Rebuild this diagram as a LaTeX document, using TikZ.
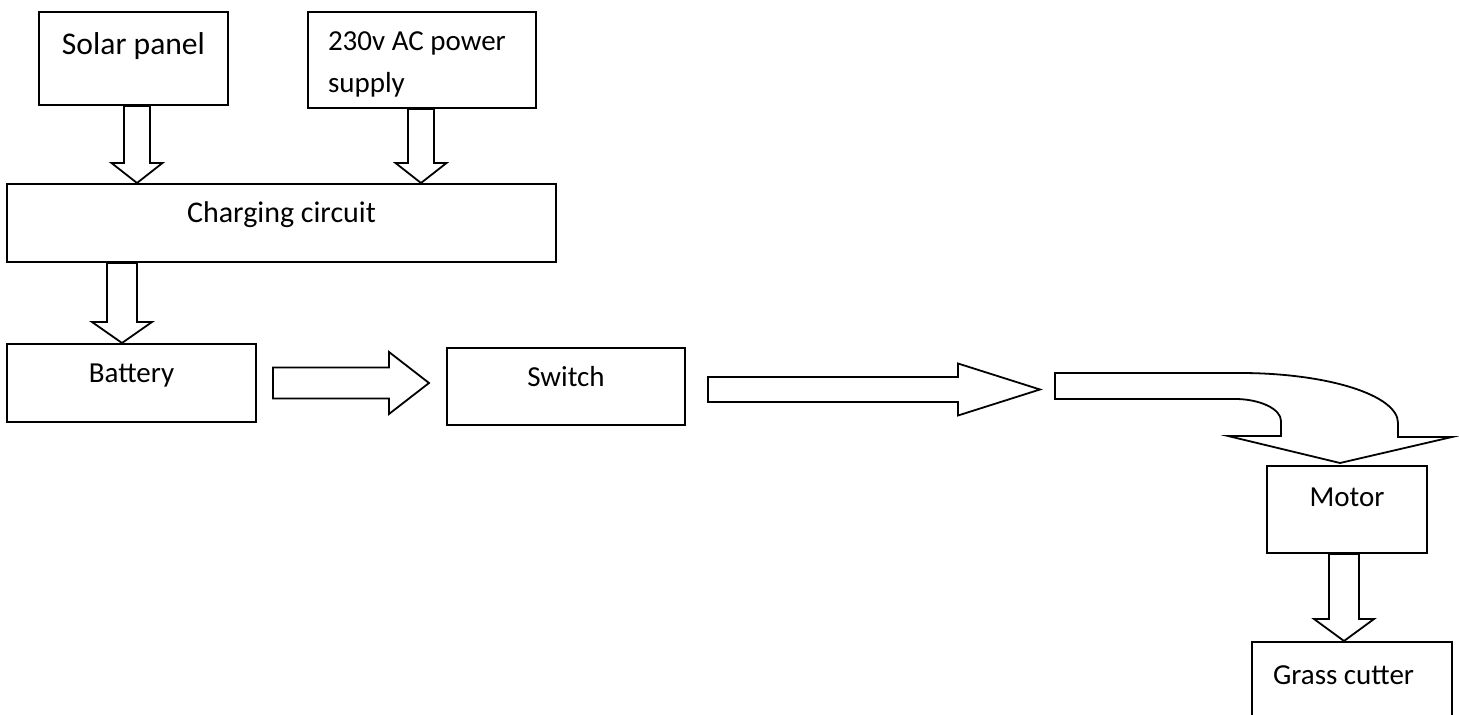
\documentclass[tikz,border=0pt]{standalone}
\usepackage{fontspec}
\setmainfont{Carlito}
\usetikzlibrary{calc}

\tikzset{
  block/.style={draw, line width=1pt, inner sep=0pt},
  fat/.style={draw, line width=0.9pt, line join=miter},
  downarrow/.style n args={3}{fat, to path={
      let \p1=(\tikztostart), \p2=(\tikztotarget) in
      (\x1-#1,\y1) -- (\x1-#1,\y2+#3) -- (\x1-#2,\y2+#3) -- (\x1,\y2)
      -- (\x1+#2,\y2+#3) -- (\x1+#1,\y2+#3) -- (\x1+#1,\y1) -- cycle}},
  rightarrow/.style n args={3}{fat, to path={
      let \p1=(\tikztostart), \p2=(\tikztotarget) in
      (\x1,\y1+#1) -- (\x2-#3,\y1+#1) -- (\x2-#3,\y1+#2) -- (\x2,\y1)
      -- (\x2-#3,\y1-#2) -- (\x2-#3,\y1-#1) -- (\x1,\y1-#1) -- cycle}},
}

\begin{document}
\begin{tikzpicture}[x=0.5pt, y=-0.5pt]
         \useasboundingbox (0,0) rectangle (1459,715);
         \clip (0,0) rectangle (1459,715);

         \node (solar) at (133.5,58.5) [block, minimum width=94.5pt,
            minimum height=46.5pt, font=\fontsize{15.8}{19}\selectfont,
            text height=10pt, text depth=13.5pt] {Solar panel};
         \node (acpower) at (422,60) [block, text width=94pt, inner xsep=10pt,
            align=flush left, minimum height=48pt, text height=9.2pt,
            text depth=19pt, font=\fontsize{14.5}{21}\selectfont] {230v AC power\\supply};
         \node (charge) at (281.5,223) [block, minimum width=274.5pt,
            minimum height=39pt, font=\fontsize{15}{18}\selectfont,
            text height=9.5pt, text depth=10pt] {Charging circuit};
         \node (battery) at (131.5,383) [block, minimum width=124.5pt,
            minimum height=39pt, font=\fontsize{14.5}{17}\selectfont,
            text height=9.2pt, text depth=9.5pt] {Battery};
         \node (switch) at (566,386.5) [block, minimum width=119pt,
            minimum height=38.5pt, font=\fontsize{14.5}{17}\selectfont,
            text height=9.2pt, text depth=9pt] {Switch};
         \node (motor) at (1347,509.5) [block, minimum width=80pt,
            minimum height=43.5pt, font=\fontsize{14.5}{17}\selectfont,
            text height=9.2pt, text depth=12.5pt] {Motor};
         \node (grass) at (1352,692) [block, text width=79pt, inner xsep=10.5pt,
            align=flush left, minimum height=50pt, font=\fontsize{14.5}{17}\selectfont,
            text height=9.2pt, text depth=17pt] {Grass cutter};
         \coordinate (bend) at (1055,386.5);

         \draw [downarrow={6.5pt}{12.75pt}{10pt}] ([xshift=1.75pt]solar.south) to (charge.north);
         \draw [downarrow={6.5pt}{12.75pt}{10pt}] ([xshift=-0.5pt]acpower.south) to (charge.north);
         \draw [downarrow={7.5pt}{15pt}{10.5pt}] ([xshift=-4.75pt]battery.north |- charge.south) to (battery.north);
         \draw [rightarrow={7.75pt}{15.5pt}{20pt}] ([xshift=8pt]battery.east) to ([xshift=-8.5pt]switch.west);
         \draw [rightarrow={6.25pt}{13pt}{41pt}] ([shift={(11pt,-1.5pt)}]switch.east) to ([xshift=-7.5pt]bend);
         \draw [fat] (bend) ++(0,-13.5) -- ++(185,0)
            .. controls +(87,0) and +(0,-28) .. ++(158,50)
            -- ++(0,14) -- ++(54,0)
            -- ([xshift=-3.5pt,yshift=1pt]motor.north)
            -- ++(-112,-27) -- ++(53,0) -- ++(0,-15)
            .. controls +(0,-12) and +(25,0) .. ++(-46,-22)
            -- ++(-180,0) -- cycle;
         \draw [downarrow={7.5pt}{15pt}{11pt}] ([xshift=-1.5pt]motor.south) to (grass.north);
\end{tikzpicture}
\end{document}
